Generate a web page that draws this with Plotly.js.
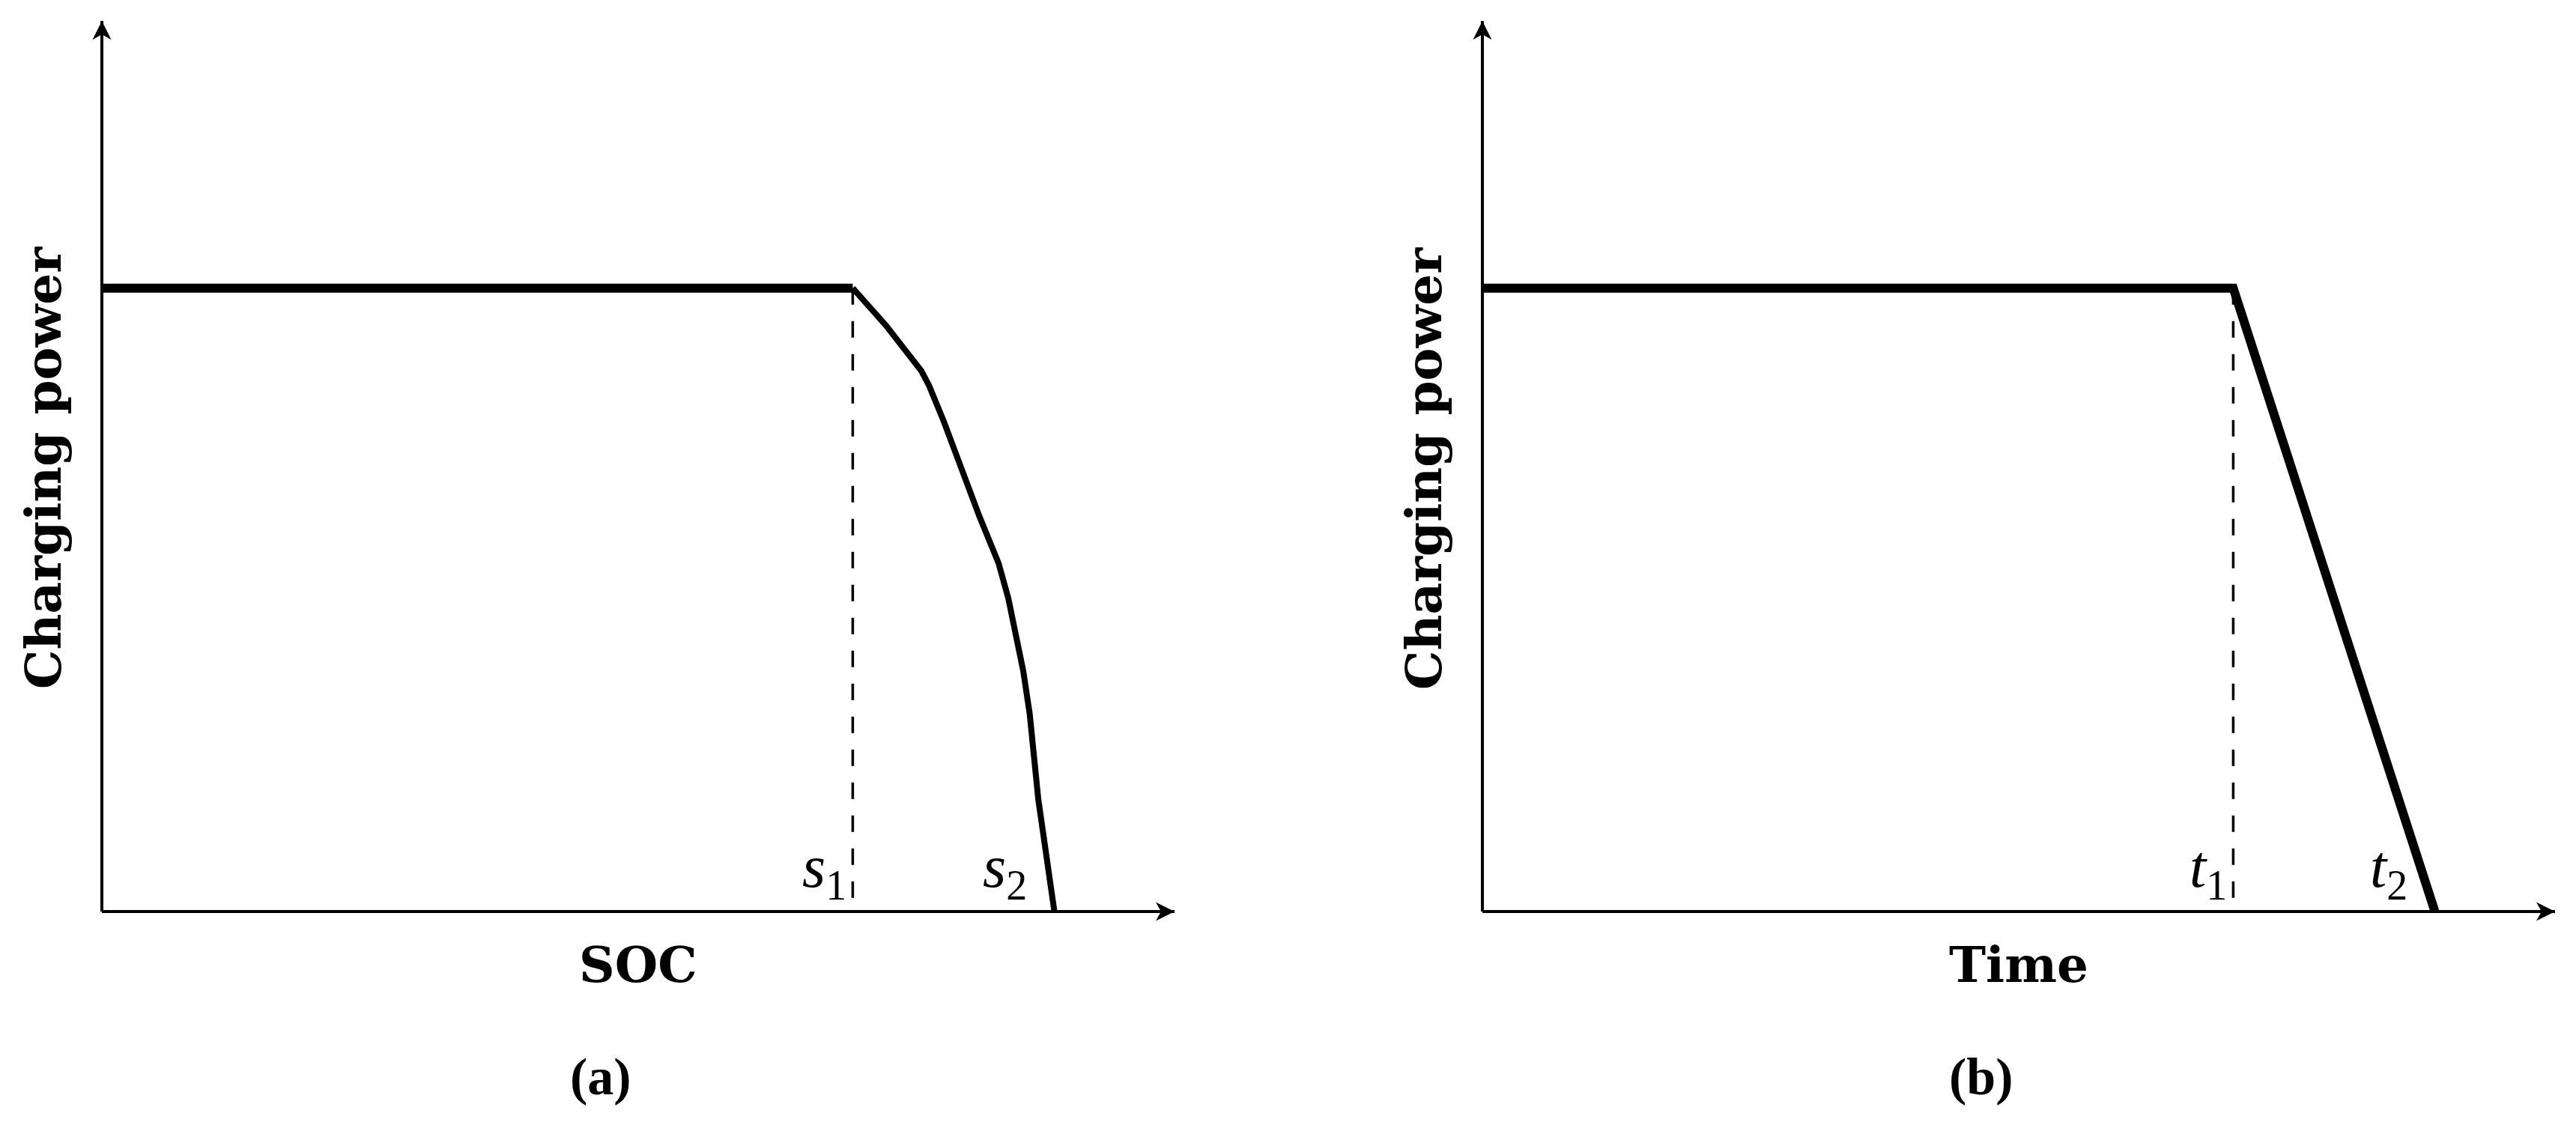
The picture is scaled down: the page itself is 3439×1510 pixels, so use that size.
<!DOCTYPE html>
<html>
<head>
<meta charset="utf-8">
<script src="https://cdn.plot.ly/plotly-3.0.1.min.js"></script>
<style>
  html, body { margin: 0; padding: 0; background: #fff; }
  #chart { width: 3439px; height: 1510px; }
</style>
</head>
<body>
<div id="chart"></div>
<script>
// (a) charging power vs SOC, normalised 0..1 on both axes
const socFlatX = [0, 0.70];
const socFlatP = [0.70, 0.70];
const socCurveX = [0.70, 0.731, 0.764, 0.771, 0.785, 0.801, 0.818, 0.836, 0.845, 0.859, 0.865, 0.873, 0.888];
const socCurveP = [0.70, 0.658, 0.607, 0.591, 0.550, 0.497, 0.444, 0.391, 0.352, 0.270, 0.222, 0.126, 0];
const socMarks = [0.70, 0.888];
const socMarkLabels = ["<i>s</i><sub>1</sub>", "<i>s</i><sub>2</sub>"];

// (b) charging power vs time
const timeX = [0, 0.70, 0.888];
const timeP = [0.70, 0.70, 0];
const timeMarks = [0.70, 0.888];
const timeMarkLabels = ["<i>t</i><sub>1</sub>", "<i>t</i><sub>2</sub>"];

const yLabel = "Charging power";
const xLabels = ["SOC", "Time"];
const panelLabels = ["(a)", "(b)"];

// pixel layout of the two panels (page is 3439 x 1510)
const W = 3439, H = 1510;
const panelShift = 1843;
const ox = 136, tipX = 1568, oy = 1217, tipY = 28;
const pad = 20; // keep axis lines and arrow tips off the clip edge

const xPad = pad / (tipX - ox), yPad = pad / (oy - tipY);
function xDom(shift) { return [(ox - pad + shift) / W, (tipX + pad + shift) / W]; }
const yDom = [1 - (oy + pad) / H, 1 - (tipY - pad) / H];

const xStyle = { visible: false, range: [-xPad, 1 + xPad], fixedrange: true };
const yStyle = { visible: false, range: [-yPad, 1 + yPad], fixedrange: true };

const data = [
  { x: socFlatX, y: socFlatP, xaxis: "x", yaxis: "y", mode: "lines",
    line: { color: "#000", width: 12 } },
  { x: socCurveX, y: socCurveP, xaxis: "x", yaxis: "y", mode: "lines",
    line: { color: "#000", width: 8 } },
  { x: [socMarks[0], socMarks[0]], y: [socFlatP[1], 0], xaxis: "x", yaxis: "y", mode: "lines",
    line: { color: "#000", width: 3.5, dash: "22px,22px" } },
  { x: timeX, y: timeP, xaxis: "x2", yaxis: "y2", mode: "lines",
    line: { color: "#000", width: 12 } },
  { x: [timeMarks[0], timeMarks[0]], y: [timeP[1], 0], xaxis: "x2", yaxis: "y2", mode: "lines",
    line: { color: "#000", width: 3.5, dash: "22px,22px" } }
];

const annotations = [];
const shapes = [];
const mathFont = { family: "Liberation Serif", size: 80, color: "#000" };
const titleFont = { family: "DejaVu Serif", size: 66, color: "#000", weight: "bold" };
const capFont = { family: "Liberation Serif", size: 70, color: "#000", weight: "bold" };

// stealth-like arrow tips, in pixels relative to the axis end
const headRight = "M0,0 L-25,12.5 L-18,0 L-25,-12.5 Z";
const headUp = "M0,0 L-12.5,-25 L0,-18 L12.5,-25 Z";

["", "2"].forEach((s, i) => {
  const xr = "x" + s, yr = "y" + s;
  // axes
  shapes.push({ type: "line", xref: xr, yref: yr, x0: 0, y0: 0, x1: 1, y1: 0,
    line: { color: "#000", width: 4 } });
  shapes.push({ type: "line", xref: xr, yref: yr, x0: 0, y0: 0, x1: 0, y1: 1,
    line: { color: "#000", width: 4 } });
  shapes.push({ type: "path", xref: xr, yref: yr, xsizemode: "pixel", ysizemode: "pixel",
    xanchor: 1, yanchor: 0, path: headRight, fillcolor: "#000", line: { width: 0 } });
  shapes.push({ type: "path", xref: xr, yref: yr, xsizemode: "pixel", ysizemode: "pixel",
    xanchor: 0, yanchor: 1, path: headUp, fillcolor: "#000", line: { width: 0 } });

  const marks = i === 0 ? socMarks : timeMarks;
  const labels = i === 0 ? socMarkLabels : timeMarkLabels;
  const shifts = [-6, -35];
  marks.forEach((m, k) => {
    annotations.push({ xref: xr, yref: yr, x: m, y: 0, text: labels[k], showarrow: false,
      xanchor: "right", yanchor: "bottom", xshift: shifts[k], yshift: 2, font: mathFont });
  });

  const dx = i * panelShift;
  annotations.push({ xref: "paper", yref: "paper", x: (58 + dx) / W, y: 1 - 625 / H,
    text: yLabel, textangle: -90, showarrow: false, xanchor: "center", yanchor: "middle", font: titleFont });
  annotations.push({ xref: "paper", yref: "paper", x: (852 + dx) / W, y: 1 - 1288 / H,
    text: xLabels[i], showarrow: false, xanchor: "center", yanchor: "middle", font: titleFont });
  annotations.push({ xref: "paper", yref: "paper", x: (802 + dx) / W, y: 1 - 1437 / H,
    text: panelLabels[i], showarrow: false, xanchor: "center", yanchor: "middle", font: capFont });
});

const layout = {
  width: W, height: H,
  margin: { l: 0, r: 0, t: 0, b: 0 },
  paper_bgcolor: "#fff", plot_bgcolor: "rgba(0,0,0,0)",
  showlegend: false,
  xaxis: Object.assign({ domain: xDom(0), anchor: "y" }, xStyle),
  yaxis: Object.assign({ domain: yDom, anchor: "x" }, yStyle),
  xaxis2: Object.assign({ domain: xDom(panelShift), anchor: "y2" }, xStyle),
  yaxis2: Object.assign({ domain: yDom, anchor: "x2" }, yStyle),
  shapes: shapes,
  annotations: annotations
};

Plotly.newPlot("chart", data, layout, { staticPlot: true, displayModeBar: false });
</script>
</body>
</html>
